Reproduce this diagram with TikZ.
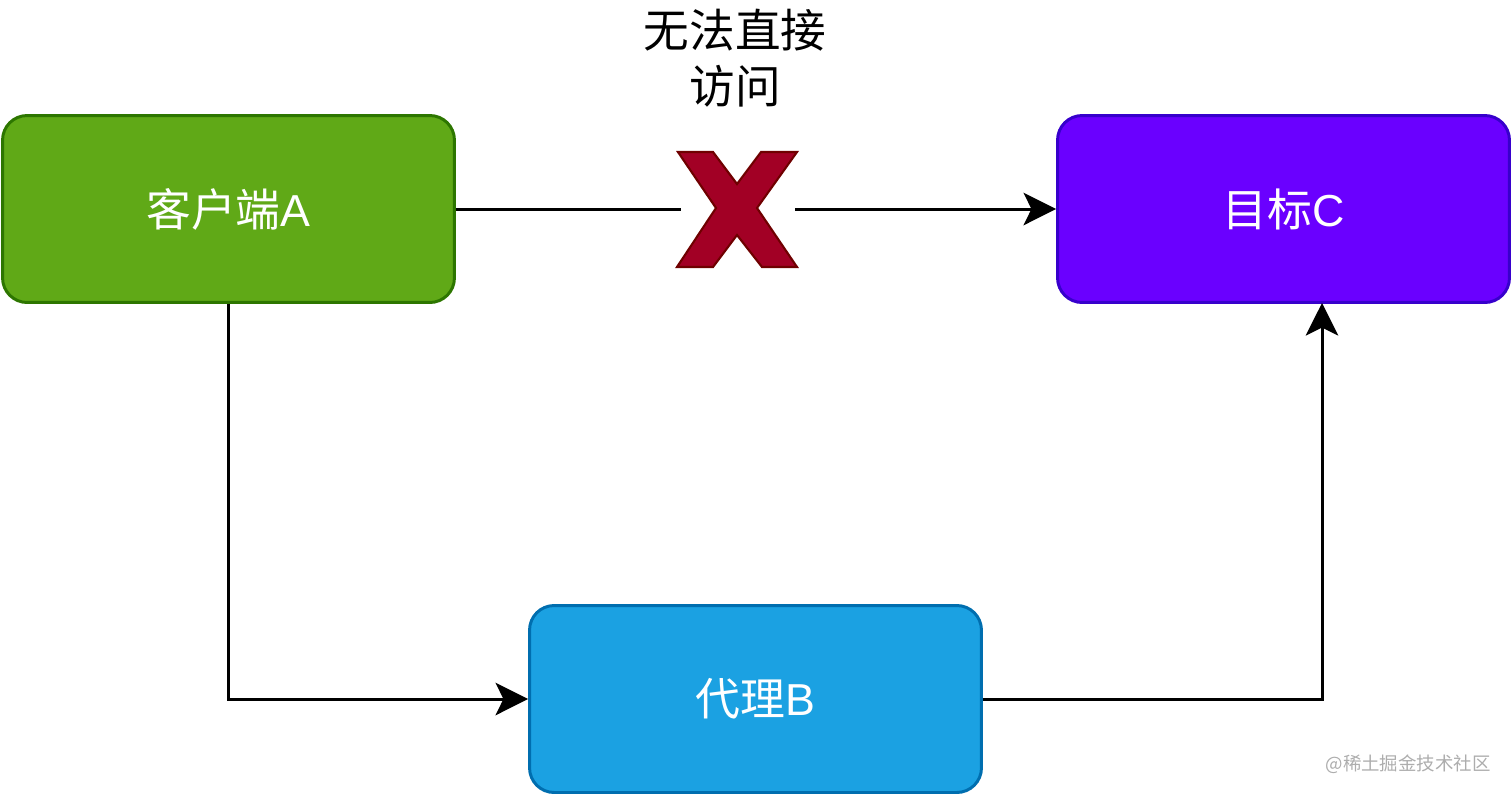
\documentclass[tikz,border=0pt]{standalone}
\usepackage{fontspec}
\setmainfont{Liberation Sans}
\newfontfamily\cjk{Noto Sans CJK SC}
\usetikzlibrary{arrows.meta}
\definecolor{gfill}{HTML}{60A917}
\definecolor{gline}{HTML}{2D7600}
\definecolor{pfill}{HTML}{6A00FF}
\definecolor{pline}{HTML}{3700CC}
\definecolor{bfill}{HTML}{1BA1E2}
\definecolor{bline}{HTML}{006EAF}
\definecolor{xfill}{HTML}{A20025}
\definecolor{xline}{HTML}{6F0000}
\begin{document}
\begin{tikzpicture}[x=0.02cm,y=-0.02cm,
  boxnode/.style={rectangle,rounded corners=14pt,line width=1.7pt,minimum width=9.04cm,minimum height=3.74cm,inner sep=0pt,text=white,font=\fontsize{25.5}{30}\selectfont},
  conn/.style={line width=1.7pt,-{Stealth[length=18.5pt,width=18.5pt,inset=4.5pt]}},
  plain/.style={line width=1.7pt}]
\useasboundingbox (0,0) rectangle (1512,796);
\node[boxnode,fill=gfill,draw=gline] (a) at (228.5,209) {{\cjk 客户端}A};
\node[boxnode,fill=pfill,draw=pline] (c) at (1283.5,209) {{\cjk 目标}C};
\node[boxnode,fill=bfill,draw=bline] (b) at (755.5,699) {{\cjk 代理}B};
\node[align=center,font=\cjk\fontsize{26}{31.7}\selectfont] (t) at (735,58) {无法直接\\访问};
\draw[fill=xfill,draw=xline,line width=1.2pt] (678,152) -- (713,152) -- (737,184) -- (761,152) -- (797,152) -- (757,208) -- (797,267) -- (762,267) -- (737,235) -- (713,267) -- (677,267) -- (716,208) -- cycle;
\coordinate (xl) at (681,209);
\coordinate (xr) at (795,209);
\draw[plain] (a.east) -- (xl);
\draw[conn] (xr) -- (c.west);
\draw[conn] (a.south) |- (b.west);
\draw[conn] (b.east) -| (1322,303) coordinate (ce);
\node[anchor=east,inner sep=0pt,text=black!32,font=\cjk\fontsize{10.5}{12}\selectfont] (w) at (1491,764) {@稀土掘金技术社区};
\end{tikzpicture}
\end{document}
